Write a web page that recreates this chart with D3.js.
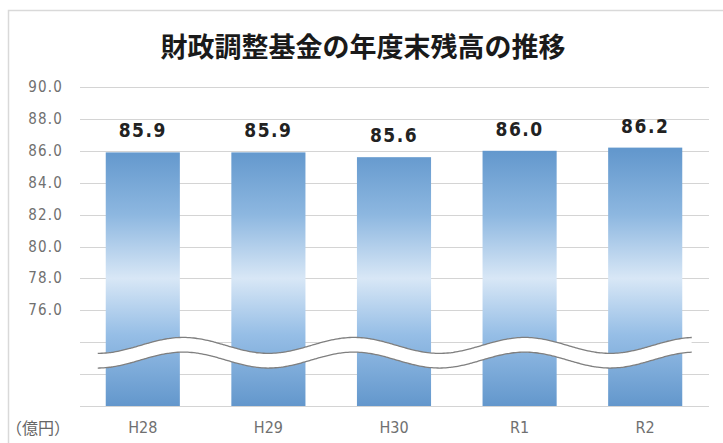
<!DOCTYPE html>
<html><head><meta charset="utf-8">
<script src="https://cdn.jsdelivr.net/npm/d3@7/dist/d3.min.js"></script>
<style>
html,body{margin:0;padding:0;background:#fff;}
svg{display:block;}
</style></head>
<body>
<script>
const categories = ["H28","H29","H30","R1","R2"];
const values = [85.9, 85.9, 85.6, 86.0, 86.2];
const yTicks = [70,72,74,76,78,80,82,84,86,88,90];
const yTickLabels = [76,78,80,82,84,86,88,90];
const title = "財政調整基金の年度末残高の推移";
const unitLabel = "（億円）";
// axis break (wave) in data units
const breakCenter = 73.8, breakAmp = 0.5, breakGap = 0.92;

const W = 723, H = 443;
const svg = d3.select("body").append("svg").attr("width", W).attr("height", H);

// frame
svg.append("path").attr("d", `M8.5,${H} V10.5 H${W}`).attr("fill","none").attr("stroke","#d9d9d9").attr("stroke-width",1.5);

const x = d3.scaleBand().domain(categories).range([80, 708]).paddingInner(0.41).paddingOuter(0.205);
const y = d3.scaleLinear().domain([70, 90]).range([406, 87]);

// gradient
const defs = svg.append("defs");
const g = defs.append("linearGradient").attr("id","barGrad").attr("gradientUnits","userSpaceOnUse")
  .attr("x1",0).attr("x2",0).attr("y1",y(86)).attr("y2",y(70));
[[0,"#6398cd"],[0.25,"#8db7e0"],[0.5,"#d8e7f6"],[0.72,"#96bee6"],[1,"#6397cc"]].forEach(([o,c])=>
  g.append("stop").attr("offset",o).attr("stop-color",c));

// title
svg.append("text").attr("x", 363).attr("y", 45).attr("text-anchor","middle").attr("dominant-baseline","central")
  .attr("font-family","'Noto Sans CJK JP', sans-serif").attr("font-weight","bold").attr("font-size",27)
  .attr("fill","#1a1a1a").text(title);

// gridlines
svg.append("g").selectAll("line").data(yTicks).join("line")
  .attr("x1",80).attr("x2",709).attr("y1",d=>Math.round(y(d))+0.5).attr("y2",d=>Math.round(y(d))+0.5)
  .attr("stroke","#d4d4d4").attr("stroke-width",1.2);

// y labels
svg.append("g").selectAll("text").data(yTickLabels).join("text")
  .attr("x",63).attr("y",d=>y(d)).attr("text-anchor","end").attr("dominant-baseline","central")
  .attr("font-family","'DejaVu Sans Condensed','DejaVu Sans',sans-serif").attr("font-stretch","condensed")
  .attr("font-size",15).attr("letter-spacing",1.2).attr("fill","#707070")
  .text(d=>d.toFixed(1));

// bars
svg.append("g").selectAll("rect").data(values).join("rect")
  .attr("x",(d,i)=>x(categories[i])).attr("width",x.bandwidth())
  .attr("y",d=>y(d)).attr("height",d=>y(70)-y(d))
  .attr("fill","url(#barGrad)");

// value labels
svg.append("g").selectAll("text").data(values).join("text")
  .attr("x",(d,i)=>x(categories[i])+x.bandwidth()/2).attr("y",d=>y(d)-15)
  .attr("text-anchor","middle")
  .attr("font-family","'DejaVu Sans Condensed','DejaVu Sans',sans-serif").attr("font-stretch","condensed")
  .attr("font-weight","bold").attr("font-size",19).attr("letter-spacing",1.5).attr("fill","#222")
  .text(d=>d.toFixed(1));

// x labels
svg.append("g").selectAll("text").data(categories).join("text")
  .attr("x",d=>x(d)+x.bandwidth()/2).attr("y",427).attr("text-anchor","middle").attr("dominant-baseline","central")
  .attr("font-family","'DejaVu Sans Condensed','DejaVu Sans',sans-serif").attr("font-stretch","condensed")
  .attr("font-size",16).attr("fill","#707070")
  .text(d=>d);

// unit label
svg.append("text").attr("x",6).attr("y",427).attr("dominant-baseline","central")
  .attr("font-family","'Noto Sans CJK JP', sans-serif").attr("font-size",16).attr("fill","#666").text(unitLabel);

// axis break wave
const bx0 = x(categories[0]) - 8, bx1 = x(categories[4]) + x.bandwidth() + 10;
const period = x.step()*1.36;
const ampPx = y(70) - y(70+breakAmp);
const gapPx = y(70) - y(70+breakGap);
const topPts = d3.range(bx0, bx1+0.5, 2).map(px => [px, y(breakCenter) + ampPx*Math.cos(2*Math.PI*(px-bx0)/period)]);
const botPts = topPts.map(([px,py]) => [px, py + gapPx]);
const line = d3.line().curve(d3.curveBasis);
svg.append("path").attr("d", line(topPts.concat(botPts.slice().reverse())) + "Z").attr("fill","#fff");
svg.append("path").attr("d", line(topPts)).attr("fill","none").attr("stroke","#7f7f7f").attr("stroke-width",1.3);
svg.append("path").attr("d", line(botPts)).attr("fill","none").attr("stroke","#7f7f7f").attr("stroke-width",1.3);
</script>
</body></html>
